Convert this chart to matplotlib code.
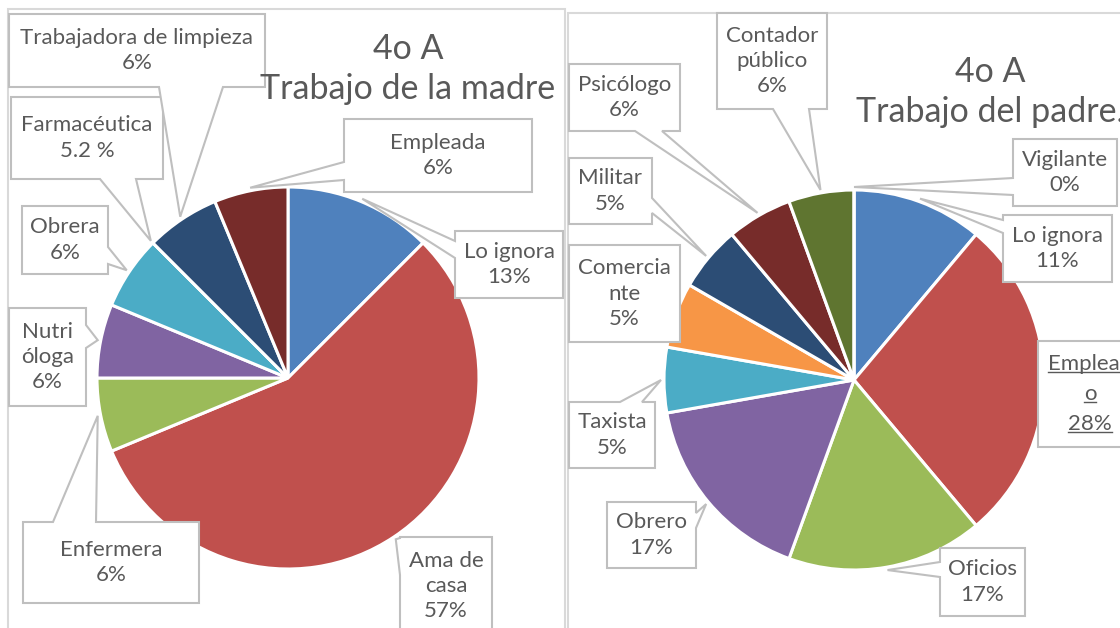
import numpy as np
import matplotlib
matplotlib.use('Agg')
import matplotlib.pyplot as plt
from matplotlib.patches import Polygon, Rectangle

plt.rcParams['font.family'] = ['Lato', 'DejaVu Sans']

W, H = 1120, 628
TXT = '#595959'
EDGE = '#BFBFBF'
LFS = 16      # label font size
TFS = 24.5    # title font size

# Excel 2010 palette
colors = ['#4F81BD', '#C0504D', '#9BBB59', '#8064A2', '#4BACC6',
          '#F79646', '#2C4D75', '#772C2A', '#5F7530', '#4D3B62']

# Madre
madre_labels = ['Lo ignora', 'Ama de\ncasa', 'Enfermera', 'Nutri\nóloga', 'Obrera',
                'Farmacéutica', 'Trabajadora de limpieza', 'Empleada']
madre_counts = [2, 9, 1, 1, 1, 0, 1, 1]
madre_pct = ['13%', '57%', '6%', '6%', '6%', '5.2 %', '6%', '6%']

# Padre
padre_labels = ['Lo ignora', 'Emplead\no', 'Oficios', 'Obrero', 'Taxista',
                'Comercia\nnte', 'Militar', 'Psicólogo', 'Contador\npúblico', 'Vigilante']
padre_counts = [2, 5, 3, 3, 1, 1, 1, 1, 1, 0]
padre_pct = ['11%', '28%', '17%', '17%', '5%', '5%', '5%', '6%', '6%', '0%']

# label boxes in pixel coords (x0, y0, x1, y1, wedge side, a, b)
madre_boxes = [(455, 231, 563, 298, 'left', 241, 258),
               (400, 537, 492, 635, 'left', 538, 575),
               (23, 522, 199, 603, 'top', 53, 96),
               (9, 308, 86, 406, 'right', 325, 348),
               (22, 206, 108, 274, 'right', 247, 264),
               (11, 97, 163, 179, 'bottom', 100, 136),
               (9, 14, 265, 87, 'bottom', 159, 223),
               (344, 119, 532, 192, 'left', 162, 180)]
padre_boxes = [(1003, 215, 1112, 282, 'left', 220, 233),
               (1038, 341, 1142, 447, None, 0, 0),
               (940, 548, 1025, 616, 'left', 562, 577),
               (607, 502, 696, 568, 'right', 513, 528),
               (569, 402, 655, 468, 'top', 620, 642),
               (569, 245, 680, 342, None, 0, 0),
               (569, 158, 652, 224, 'right', 198, 213),
               (569, 64, 680, 131, 'bottom', 635, 662),
               (717, 13, 827, 109, 'bottom', 773, 809),
               (1013, 139, 1117, 206, 'left', 178, 195)]

fig = plt.figure(figsize=(W / 100, H / 100), dpi=100)
ax = fig.add_axes([0, 0, 1, 1])


def callout(box, tip):
    x0, y0, x1, y1, side, a, b = box
    pts = [(x0, y0)]
    if side == 'top':
        pts += [(a, y0), tip, (b, y0)]
    pts.append((x1, y0))
    if side == 'right':
        pts += [(x1, a), tip, (x1, b)]
    pts.append((x1, y1))
    if side == 'bottom':
        pts += [(b, y1), tip, (a, y1)]
    pts.append((x0, y1))
    if side == 'left':
        pts += [(x0, b), tip, (x0, a)]
    return [(x, H - y) for x, y in pts]


def draw_pie(counts, labels, pct, boxes, cx, cy, r, title, tx, ty):
    ax.pie(counts, colors=colors[:len(counts)], startangle=90, counterclock=False,
           center=(cx, H - cy), radius=r,
           wedgeprops=dict(edgecolor='white', linewidth=2.2))
    cum = np.cumsum([0] + list(counts)) / sum(counts) * 360
    texts = []
    for i, box in enumerate(boxes):
        mid = np.radians((cum[i] + cum[i + 1]) / 2)
        tip = (cx + (r + 3) * np.sin(mid), cy - (r + 3) * np.cos(mid))
        ax.add_patch(Polygon(callout(box, tip), closed=True, facecolor='white',
                             edgecolor=EDGE, linewidth=1.5, zorder=3))
        x0, y0, x1, y1 = box[:4]
        t = ax.text((x0 + x1) / 2, H - (y0 + y1) / 2, labels[i] + '\n' + pct[i],
                    ha='center', va='center', multialignment='center',
                    fontsize=LFS, color=TXT, linespacing=1.33, zorder=4)
        texts.append(t)
    ax.text(tx, H - ty, title, ha='center', va='center', multialignment='center',
            fontsize=TFS, color=TXT, linespacing=1.3)
    return texts


# chart frames
ax.add_patch(Rectangle((8, H - 640), 557, 631, facecolor='none', edgecolor='#D9D9D9', linewidth=1.5))
ax.add_patch(Rectangle((568, H - 640), 570, 627, facecolor='none', edgecolor='#D9D9D9', linewidth=1.5))

draw_pie(madre_counts, madre_labels, madre_pct, madre_boxes, 288, 378, 191,
         '4o A\nTrabajo de la madre', 408, 69)
ptexts = draw_pie(padre_counts, padre_labels, padre_pct, padre_boxes, 854, 380, 190,
                  '4o A\nTrabajo del padre.', 990, 92)

ax.set_xlim(0, W)
ax.set_ylim(0, H)
ax.set_aspect('auto')
ax.axis('off')

# underline the "Empleado" label, line by line
emp = ptexts[1]
emp.set_text('')
ex, ey = emp.get_position()
lines = ['Emplead', 'o', '28%']
fig.canvas.draw()
inv = ax.transData.inverted()
for k, s in enumerate(lines):
    yy = ey + (1 - k) * 30
    t = ax.text(ex, yy, s, ha='center', va='center', fontsize=LFS, color=TXT, zorder=4)
    bb = t.get_window_extent(fig.canvas.get_renderer())
    (bx0, by0), (bx1, by1) = inv.transform([(bb.x0, bb.y0), (bb.x1, bb.y1)])
    ax.plot([bx0, bx1], [by0 + 2, by0 + 2], color=TXT, linewidth=1, zorder=4)

fig.savefig('out.png', dpi=100)
